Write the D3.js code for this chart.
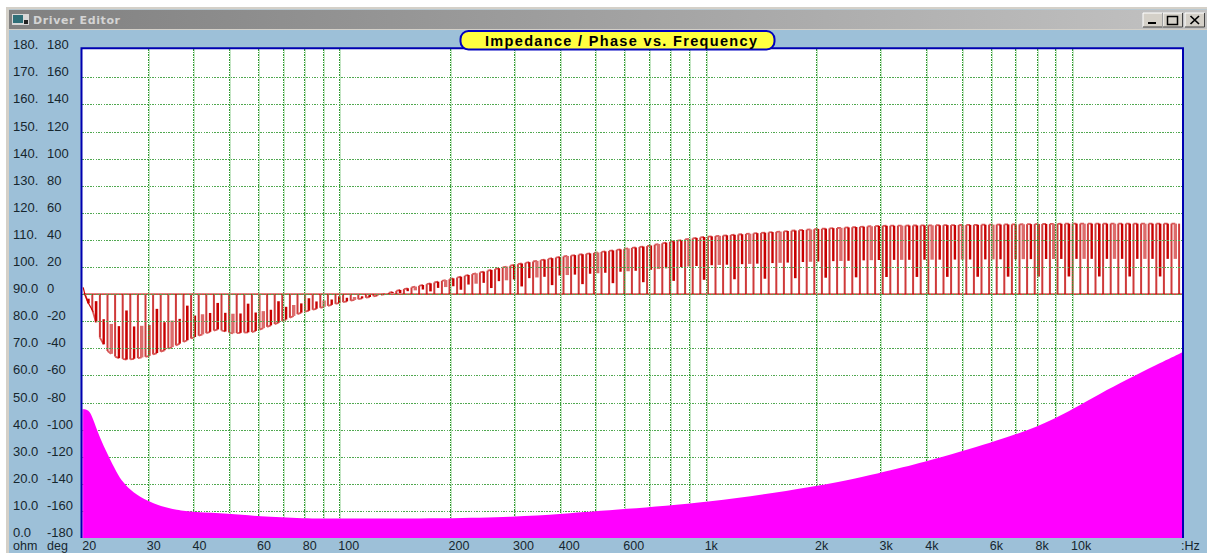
<!DOCTYPE html>
<html><head><meta charset="utf-8">
<script src="https://cdn.jsdelivr.net/npm/d3@7"></script>
<style>html,body{margin:0;padding:0;background:#fff;overflow:hidden}svg{display:block}</style>
</head><body><svg id="c" width="1207" height="553"></svg>
<script>
const ohmLabels = ["180.","170.","160.","150.","140.","130.","120.","110.","100.","90.0","80.0","70.0","60.0","50.0","40.0","30.0","20.0","10.0","0.0"];
const ohmTicks = [180,170,160,150,140,130,120,110,100,90,80,70,60,50,40,30,20,10,0];
const degTicks = [180,160,140,120,100,80,60,40,20,0,-20,-40,-60,-80,-100,-120,-140,-160,-180];
const gridHz = [30,40,50,60,70,80,90,100,200,300,400,500,600,700,800,900,1000,2000,3000,4000,5000,6000,7000,8000,9000,10000];
const labelHz = [20,30,40,60,80,100,200,300,400,600,1000,2000,3000,4000,6000,8000,10000];
const impHz = [20,20.4,20.9,21.4,22.2,23.3,24.7,25.7,27.3,30,32.5,36,40,50,60,80,100,200,300,400,600,1000,2000,3000,4000,5000,6000,7000,8000,9000,10000,12000,14000,17000,20000];
const impOhm = [47.5,47.5,46.5,43,37,31,24,20.5,16.8,13.6,11.8,10.3,9.6,9,8,7.2,7.2,7.2,7.8,8.8,10.7,13,18.8,24,28.2,32,35.2,38.2,41,44.2,47.4,53.5,58.2,64,68.5];
const phaseHz = [20,20.2,20.6,21.3,21.8,22.2,23.3,24.7,26.5,30,33.7,40,46.5,51,58,70,78,100,133,146,200,300,400,500,600,700,800,900,1000,2000,3000,5000,10000,20000];
const phaseDeg = [5,0,-6,-13,-23,-32,-42,-47,-48.5,-46,-41,-32,-26,-29,-28,-20,-14,-6.5,0,3,11,21.6,27.5,30.5,33.4,35.6,38.6,40.8,42.3,48,50.4,51,52,52];

const svg = d3.select("#c");
const L = 83.2, R = 1182.3, T = 50.2, B = 538;
const x = d3.scaleLog().domain([20,20000]).range([L,R]);
const yDeg = d3.scaleLinear().domain([-180,180]).range([B,T]);
const yOhm = d3.scaleLinear().domain([0,180]).range([B,T]);
const phaseAt = d3.scaleLog().domain(phaseHz).range(phaseDeg);
const fmtHz = d => d >= 1000 ? (d/1000)+"k" : String(d);

// window chrome
const defs = svg.append("defs");
const g = defs.append("linearGradient").attr("id","tb");
g.append("stop").attr("offset",0).attr("stop-color","#808080");
g.append("stop").attr("offset",1).attr("stop-color","#c2c2c2");
svg.append("rect").attr("x",9).attr("y",9).attr("width",1198).attr("height",544).attr("fill","#9dc0d8");
svg.append("rect").attr("x",6).attr("y",7).attr("width",1201).attr("height",2.5).attr("fill","#d4d0c8");
svg.append("rect").attr("x",6).attr("y",7).attr("width",3).attr("height",546).attr("fill","#d4d0c8");
svg.append("rect").attr("x",9).attr("y",10).attr("width",1198).attr("height",19).attr("fill","url(#tb)");
svg.append("rect").attr("x",9).attr("y",29).attr("width",1198).attr("height",1).attr("fill","#d4d0c8");
svg.append("rect").attr("x",12).attr("y",14).attr("width",17).attr("height",11).attr("fill","#d8d8d8");
svg.append("rect").attr("x",13).attr("y",15).attr("width",10).attr("height",8).attr("fill","#2f6f78");
svg.append("rect").attr("x",24).attr("y",20).attr("width",4).attr("height",4).attr("fill","#222");
svg.append("text").attr("x",33).attr("y",24).attr("font-family","DejaVu Sans").attr("font-weight","bold")
  .attr("font-size",11).attr("textLength",87).attr("lengthAdjust","spacing").attr("fill","#d4d4d4").text("Driver Editor");
[1143,1163,1185].forEach(bx=>{
  svg.append("rect").attr("x",bx).attr("y",13).attr("width",19.5).attr("height",14).attr("fill","#d4d0c8");
  svg.append("path").attr("d",`M${bx} 27V13H${bx+19.5}`).attr("fill","none").attr("stroke","#fff");
  svg.append("path").attr("d",`M${bx} 27H${bx+19.5}V13`).attr("fill","none").attr("stroke","#444");
});
svg.append("rect").attr("x",1148).attr("y",22).attr("width",8).attr("height",2).attr("fill","#000");
svg.append("rect").attr("x",1167.5).attr("y",16.5).attr("width",10).attr("height",8).attr("fill","none").attr("stroke","#000").attr("stroke-width",1.5);
svg.append("path").attr("d","M1190.5 16L1199 24M1199 16L1190.5 24").attr("stroke","#000").attr("stroke-width",1.7);

// plot area
svg.append("rect").attr("x",81.5).attr("y",48.3).attr("width",1101.5).attr("height",489.7).attr("fill","#fff");

// phase hatch
const hatch = svg.append("g");
const step = 3.8;
const samples = d3.range(L+1.5, R, step).map(px => x.invert(px));
const cols = {full:"#cf3a3a", half:"#dc6c6c", dark:"#c80000"};
const seg = (f, a, b, col, w) => hatch.append("line")
  .attr("x1",x(f)).attr("x2",x(f)).attr("y1",yDeg(phaseAt(f)*a)).attr("y2",yDeg(phaseAt(f)*b))
  .attr("stroke",col).attr("stroke-width",w);
samples.forEach((f,i)=>{
  if (i%2===0) seg(f,0,1,cols.full,2);
  else if (i%8===3) seg(f,0.25,1,cols.dark,2.6);
  else if (i%4===1) seg(f,0.5,1,cols.dark,2.4);
  else seg(f,0.5,1,cols.half,3.4);
  if (i%2===0 && samples[i+1]) {
    hatch.append("line").attr("x1",x(f)).attr("x2",x(samples[i+1]))
      .attr("y1",yDeg(phaseAt(f))).attr("y2",yDeg(phaseAt(samples[i+1])))
      .attr("stroke","#d85858").attr("stroke-width",1.8);
  }
});
hatch.append("line").attr("x1",x(20)).attr("x2",1183).attr("y1",yDeg(0)).attr("y2",yDeg(0))
  .attr("stroke","#cc0000").attr("stroke-width",1.4);
hatch.append("path").attr("fill","none").attr("stroke","#cc0000").attr("stroke-width",1.2)
  .attr("d",d3.line().x(d=>x(d)).y(d=>yDeg(phaseAt(d)))(phaseHz.slice(0,4)));

// grid
const haloX = svg.append("g").attr("transform",`translate(1,${B})`)
  .call(d3.axisBottom(x).tickValues(gridHz).tickSize(-(B-48.5)).tickFormat(""));
haloX.select(".domain").remove();
haloX.selectAll("line").attr("stroke","#7fc77f").attr("stroke-opacity",.45).attr("stroke-width",1).attr("shape-rendering","crispEdges");
const gridX = svg.append("g").attr("transform",`translate(0,${B})`)
  .call(d3.axisBottom(x).tickValues(gridHz).tickSize(-(B-48.5)).tickFormat(""));
gridX.select(".domain").remove();
gridX.selectAll("line").attr("stroke","#2f9a2f").attr("stroke-width",1).attr("stroke-dasharray","1.2,1.3").attr("shape-rendering","crispEdges");
const gridY = svg.append("g").attr("transform","translate(82,0)")
  .call(d3.axisLeft(yDeg).tickValues(degTicks.slice(1,-1)).tickSize(-1100).tickFormat(""));
gridY.select(".domain").remove();
gridY.selectAll("line").attr("stroke","#50a850").attr("stroke-width",1).attr("stroke-dasharray","1.5,1.2").attr("shape-rendering","crispEdges");

// impedance
svg.append("path").datum(impHz.map((h,i)=>[h,impOhm[i]])).attr("fill","#ff00ff")
  .attr("d",d3.area().x(d=>x(d[0])).y0(B).y1(d=>yOhm(d[1])).curve(d3.curveBasis));
svg.append("rect").attr("x",82.5).attr("y",yOhm(47.5)).attr("width",1).attr("height",B-yOhm(47.5)).attr("fill","#ff00ff");

// frame
svg.append("path").attr("d","M81.5 538V48.3H1183V538").attr("fill","none").attr("stroke","#0000b0").attr("stroke-width",2);

// axis labels
const txt = sel => sel.attr("font-family","Liberation Sans, Arial, sans-serif").attr("font-size",13).attr("fill","#16262e");
const axO = svg.append("g").attr("transform","translate(13,0)")
  .call(d3.axisLeft(yOhm).tickValues(ohmTicks).tickSize(0).tickFormat((d,i)=>ohmLabels[i]));
const axD = svg.append("g").attr("transform","translate(47,0)")
  .call(d3.axisLeft(yDeg).tickValues(degTicks).tickSize(0).tickFormat(d=>d));
[axO,axD].forEach(a=>{
  a.select(".domain").remove();
  a.selectAll("text").call(txt).attr("text-anchor","start").attr("x",0).attr("dy",0).attr("y",-1.5);
});
const axX = svg.append("g").attr("transform","translate(0,550.3)")
  .call(d3.axisBottom(x).tickValues(labelHz).tickSize(0).tickFormat(fmtHz));
axX.select(".domain").remove();
axX.selectAll("text").call(txt).attr("font-size",12.5).attr("text-anchor","start").attr("dy",0).attr("y",0).attr("dx",-1.5);
[[13,"ohm"],[47,"deg"],[1181,":Hz"]].forEach(([px,t])=>svg.append("text").attr("x",px).attr("y",550.3).call(txt).attr("font-size",12.5).text(t));

// title pill
svg.append("rect").attr("x",460.5).attr("y",31).attr("width",314).attr("height",18.5).attr("rx",8).attr("ry",8)
  .attr("fill","#ffff40").attr("stroke","#0000c0").attr("stroke-width",2);
svg.append("text").attr("x",485).attr("y",45.5).attr("font-family","Liberation Sans, Arial, sans-serif").attr("font-weight","bold")
  .attr("font-size",14.5).attr("textLength",272).attr("lengthAdjust","spacing").attr("fill","#000").text("Impedance / Phase vs. Frequency");
</script></body></html>
